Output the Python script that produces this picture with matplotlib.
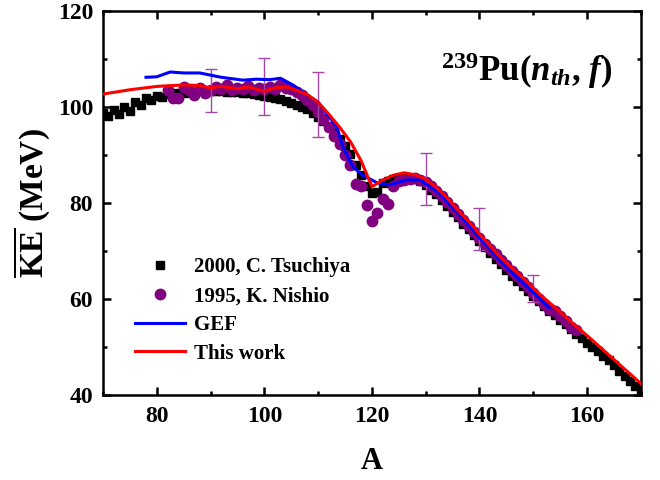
import numpy as np
import matplotlib
matplotlib.use('Agg')
import matplotlib.pyplot as plt
from matplotlib.ticker import MultipleLocator

plt.rcParams['font.family'] = 'Liberation Serif'
plt.rcParams['font.weight'] = 'bold'
plt.rcParams['mathtext.fontset'] = 'custom'
plt.rcParams['mathtext.rm'] = 'Liberation Serif:bold'
plt.rcParams['mathtext.it'] = 'Liberation Serif:bold:italic'
plt.rcParams['mathtext.bf'] = 'Liberation Serif:bold'

##### data
# 2000, C. Tsuchiya
A_tsu = list(range(70, 171))
KE_tsu = [98.8, 98.2, 99.3, 98.5, 100.0, 99.2, 101.0, 100.5, 101.8, 101.5,
          102.3, 102.0, 102.8, 102.5, 103.0, 103.0, 103.3, 103.2, 103.4, 103.3,
          103.4, 103.3, 103.3, 103.2, 103.2, 103.1, 103.0, 102.9, 102.7, 102.5,
          102.3, 102.1, 101.9, 101.6, 101.2, 100.8, 100.4, 100.0, 99.5, 98.8,
          98.0, 97.0, 95.8, 94.8, 93.4, 91.9, 90.3, 88.0, 85.8, 83.5,
          82.0, 82.3, 84.2, 84.6, 85.0, 85.3, 85.4, 85.3, 85.0, 84.5,
          83.8, 82.8, 81.8, 80.6, 79.4, 78.2, 77.0, 75.7, 74.5, 73.3,
          72.0, 70.8, 69.6, 68.4, 67.2, 66.0, 64.9, 63.8, 62.7, 61.6,
          60.6, 59.6, 58.6, 57.6, 56.6, 55.7, 54.8, 53.8, 52.8, 51.9,
          50.9, 50.0, 49.2, 48.2, 47.3, 46.3, 45.0, 44.0, 43.0, 41.8, 41.0]

# 1995, K. Nishio
A_nis = list(range(82, 159))
KE_nis = [103.5, 101.8, 101.8, 104.2, 103.5, 102.5, 104.0, 103.0, 103.5, 104.2,
          103.8, 104.5, 103.6, 104.0, 103.8, 104.4, 103.5, 104.0, 103.7, 104.2,
          103.8, 104.5, 104.0, 103.8, 103.2, 102.5, 101.5, 100.5, 99.0, 97.5,
          95.8, 94.0, 92.2, 90.0, 88.0, 84.0, 83.5, 79.5, 76.2, 78.0,
          80.8, 79.8, 83.5, 84.5, 84.8, 85.0, 85.2, 84.8, 84.3, 83.5,
          82.6, 81.5, 80.2, 79.0, 77.8, 76.5, 75.2, 74.0, 72.8, 71.5,
          70.5, 69.3, 68.2, 67.0, 65.8, 64.8, 63.5, 62.5, 61.3, 60.0,
          59.0, 58.0, 57.5, 56.5, 55.5, 54.2, 53.5]

# error bars on a few Nishio points
A_err = [90, 100, 110, 130, 140, 150]
KE_err = [103.5, 104.3, 100.5, 85.0, 74.6, 62.2]
err = [4.5, 6.0, 6.7, 5.4, 4.4, 2.8]

# GEF
A_gef = [78, 80, 82.5, 85, 88, 92, 96, 98.5, 101, 103, 105.3, 108.5, 110, 111.6,
         113.5, 114.6, 116.5, 118.3, 121, 123.3, 126.5, 129, 132.6, 135, 137.7,
         140, 143.2, 146, 149, 153]
KE_gef = [106.2, 106.3, 107.3, 107.1, 107.1, 106.2, 105.6, 105.8, 105.7, 106.0,
          104.6, 102.1, 101.0, 98.7, 95.8, 91.7, 87.5, 85.8, 84.2, 83.8, 84.8,
          84.8, 82.0, 79.0, 75.8, 72.8, 68.8, 65.6, 62.4, 58.2]

# This work
A_tw = [70, 75, 80, 85, 88, 90, 92, 95, 97, 100, 102, 104, 106, 108, 110, 112,
        114, 116, 118, 120, 122, 124, 126, 128, 130, 132, 134, 136, 138, 140,
        142, 144, 146, 148, 150, 152, 154, 156, 158, 160, 162, 164, 166, 168, 170]
KE_tw = [102.7, 103.6, 104.3, 104.6, 104.5, 104.0, 104.3, 103.8, 104.2, 103.3,
         104.0, 104.2, 103.5, 102.6, 101.0, 98.5, 95.8, 92.8, 88.8, 83.4,
         84.8, 85.8, 86.3, 85.9, 85.0, 83.2, 81.0, 78.5, 76.2, 73.5,
         71.0, 68.6, 66.5, 64.5, 62.3, 60.2, 58.3, 56.3, 54.3, 52.4,
         50.4, 48.4, 46.4, 44.4, 42.4]

##### plot
fig = plt.figure(figsize=(6.6, 4.8), dpi=100)
ax = fig.add_axes([0.156, 0.177, 0.815, 0.8])

ax.plot(A_tsu, KE_tsu, 's', color='black', markersize=6.3, label='2000, C. Tsuchiya', zorder=2)
ax.plot(A_nis, KE_nis, 'o', color='#800080', markersize=7.5, label='1995, K. Nishio', zorder=3)
ax.errorbar(A_err, KE_err, yerr=err, fmt='none', ecolor='#a845a8', elinewidth=1,
            capsize=4, capthick=1, zorder=4, label='_nolegend_')
ax.plot(A_gef, KE_gef, '-', color='#0000ff', lw=2.2, label='GEF', zorder=5)
ax.plot(A_tw, KE_tw, '-', color='#ff0000', lw=2.2, label='This work', zorder=6)

ax.set_xlim(70, 170)
ax.set_ylim(40, 120)
ax.xaxis.set_major_locator(MultipleLocator(20))
ax.xaxis.set_minor_locator(MultipleLocator(10))
ax.yaxis.set_major_locator(MultipleLocator(20))
ax.yaxis.set_minor_locator(MultipleLocator(10))
ax.tick_params(which='both', direction='in', top=True, right=True, width=1.8,
               labelsize=17)
ax.tick_params(which='major', length=6)
ax.tick_params(which='minor', length=3)
ax.tick_params(axis='y', pad=7)
ax.tick_params(axis='x', pad=8)
for s in ax.spines.values():
    s.set_linewidth(1.8)

ax.set_xlabel('A', fontsize=22, fontweight='bold', labelpad=14)
ax.set_ylabel(r'$\overline{\mathrm{KE}}$ (MeV)', fontsize=24, fontweight='bold', labelpad=4)

ax.text(0.788, 0.845, r'$^{239}$Pu($n_{th}$, $f$)', transform=ax.transAxes,
        fontsize=25, fontweight='bold', ha='center', va='center')

ax.legend(loc='lower left', bbox_to_anchor=(0.045, 0.06), frameon=False,
          fontsize=15, handlelength=2.4, handletextpad=0.4, labelspacing=0.42,
          borderaxespad=0)

plt.savefig('out.png', dpi=100)
